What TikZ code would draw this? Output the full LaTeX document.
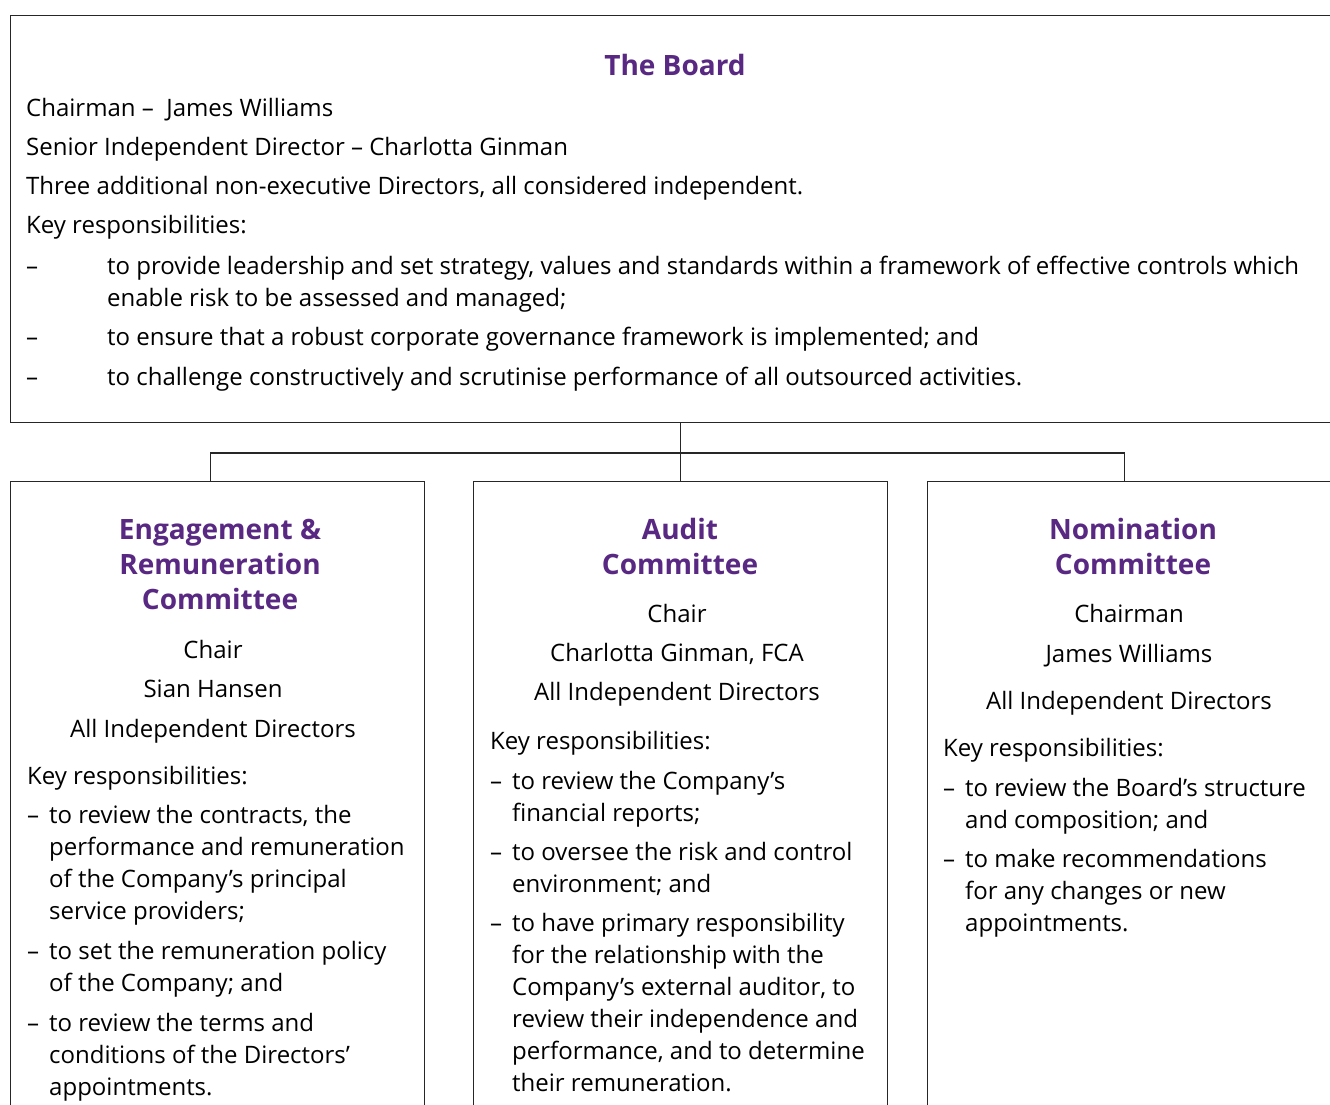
\documentclass[tikz,border=0pt]{standalone}
\usepackage{fontspec}
\setmainfont{Open Sans}
\definecolor{boardpurple}{RGB}{88,40,130}
\newcommand{\bodyfont}{\fontsize{24}{32}\selectfont}
\newcommand{\headfont}{\fontsize{28}{35}\selectfont\bfseries}

\begin{document}
\begin{tikzpicture}[x=1pt, y=-1pt,
  box/.style={draw=black!85, line width=1.3pt, anchor=north west, inner sep=0pt},
  link/.style={draw=black!85, line width=1.3pt},
  head/.style={font=\headfont, text=boardpurple, align=center, anchor=north, inner sep=0pt, yshift=24.5pt},
  txt/.style={font=\bodyfont, align=left, anchor=north west, inner sep=0pt, yshift=22.4pt},
  mid/.style={font=\bodyfont, align=center, anchor=north, inner sep=0pt, yshift=22.4pt}]
\clip (0,0) rectangle (1330,1104);

% boxes
\node[box, minimum width=1345pt, minimum height=407pt] (board) at (10,15) {};
\node[box, minimum width=414pt, minimum height=660pt] (erc) at (10,481) {};
\node[box, minimum width=414pt, minimum height=660pt] (audit) at (473,481) {};
\node[box, minimum width=414pt, minimum height=660pt] (nom) at (927,481) {};

% connectors
\draw[link] (board.south -| audit.north) -- (audit.north);
\draw[link] ([xshift=-7pt]erc.north) -- ++(0,-28) -| ([xshift=-10pt]nom.north);

% the board
\node[head] (boardtitle) at (675,75) {\strut The Board};
\node[txt] (chairman) at (26,116.7) {\strut Chairman –\ \ James Williams};
\node[txt] (senior) at (26,155.5) {\strut Senior Independent Director – Charlotta Ginman};
\node[txt] (three) at (26,194.5) {\strut Three additional non-executive Directors, all considered independent.};
\node[txt] (boardkey) at (26,233.5) {\strut Key responsibilities:};
\node[txt] (bd1) at (26,274) {\strut –};
\node[txt] (bt1) at (107,274) {\strut to provide leadership and set strategy, values and standards within a framework of effective controls which\\enable risk to be assessed and managed;};
\node[txt] (bd2) at (26,345) {\strut –};
\node[txt] (bt2) at (107,345) {\strut to ensure that a robust corporate governance framework is implemented; and};
\node[txt] (bd3) at (26,385) {\strut –};
\node[txt] (bt3) at (107,385) {\strut to challenge constructively and scrutinise performance of all outsourced activities.};

% engagement & remuneration
\node[head] (ertitle) at (220,539) {\strut Engagement \&\\Remuneration\\Committee};
\node[mid] (erchair) at (213,658) {\strut Chair\\[7.5pt]Sian Hansen\\[7.5pt]All Independent Directors};
\node[txt] (erkey) at (27,784) {\strut Key responsibilities:};
\node[txt] (ed1) at (27,823) {\strut –};
\node[txt] (et1) at (49,823) {\strut to review the contracts, the\\performance and remuneration\\of the Company’s principal\\service providers;};
\node[txt] (ed2) at (27,959) {\strut –};
\node[txt] (et2) at (49,959) {\strut to set the remuneration policy\\of the Company; and};
\node[txt] (ed3) at (27,1031) {\strut –};
\node[txt] (et3) at (49,1031) {\strut to review the terms and\\conditions of the Directors’\\appointments.};

% audit
\node[head] (audtitle) at (680,539) {\strut Audit\\Committee};
\node[mid] (audchair) at (677,622) {\strut Chair\\[7.5pt]Charlotta Ginman, FCA\\[7pt]All Independent Directors};
\node[txt] (audkey) at (490,749) {\strut Key responsibilities:};
\node[txt] (ad1) at (490,789) {\strut –};
\node[txt] (at1) at (512,789) {\strut to review the Company’s\\financial reports;};
\node[txt] (ad2) at (490,860) {\strut –};
\node[txt] (at2) at (512,860) {\strut to oversee the risk and control\\environment; and};
\node[txt] (ad3) at (490,931) {\strut –};
\node[txt] (at3) at (512,931) {\strut to have primary responsibility\\for the relationship with the\\Company’s external auditor, to\\review their independence and\\performance, and to determine\\their remuneration.};

% nomination
\node[head] (nomtitle) at (1133,539) {\strut Nomination\\Committee};
\node[mid] (nomchair) at (1129,622) {\strut Chairman\\[8pt]James Williams\\[15pt]All Independent Directors};
\node[txt] (nomkey) at (943,756) {\strut Key responsibilities:};
\node[txt] (nd1) at (943,796) {\strut –};
\node[txt] (nt1) at (965,796) {\strut to review the Board’s structure\\and composition; and};
\node[txt] (nd2) at (943,867) {\strut –};
\node[txt] (nt2) at (965,867) {\strut to make recommendations\\for any changes or new\\appointments.};
\end{tikzpicture}
\end{document}
